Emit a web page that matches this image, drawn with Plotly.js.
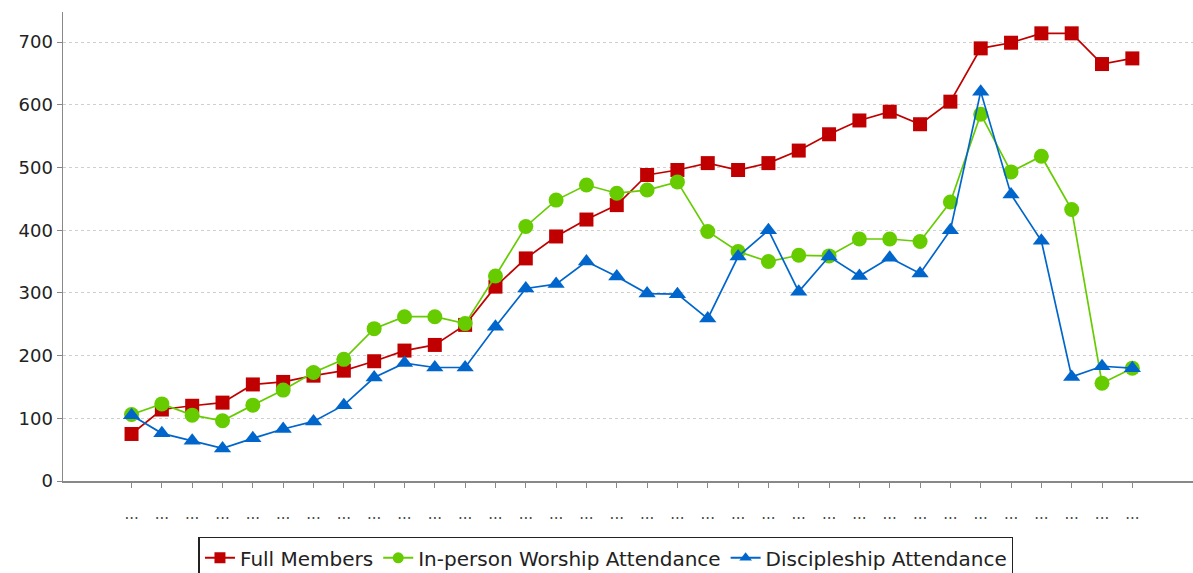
<!DOCTYPE html>
<html><head><meta charset="utf-8">
<script src="https://cdn.plot.ly/plotly-3.0.1.min.js"></script>
<style>html,body{margin:0;padding:0;background:#fff}#chart{width:1193px;height:573px}</style>
</head><body><div id="chart"></div>
<script>
const tickLabels = ["...","...","...","...","...","...","...","...","...","...","...","...","...","...","...","...","...","...","...","...","...","...","...","...","...","...","...","...","...","...","...","...","...","..."];
const fullMembers = [75,114,120,125,154,158,168,176,191,208,217,249,310,355,390,417,440,488,496,507,496,507,527,553,575,589,569,605,690,699,714,714,665,674];
const worship = [106,123,105,96,121,145,173,194,243,262,262,251,327,406,448,472,459,464,477,398,366,350,360,359,386,386,382,445,585,493,518,433,156,180];
const discipleship = [105,76,64,52,68,83,95,121,165,188,181,181,246,307,314,350,326,299,298,259,358,400,302,358,327,356,331,400,621,457,383,166,183,180];
const seriesNames = ['Full Members', 'In-person Worship Attendance', 'Discipleship Attendance'];

const idx = tickLabels.map((_, i) => i);
const styles = [
  {color: '#c00000', symbol: 'square', size: 14},
  {color: '#66cc00', symbol: 'circle', size: 15},
  {color: '#0066cc', symbol: 'triangle-up', size: 15}
];
const values = [fullMembers, worship, discipleship];
const data = [];
values.forEach((y, k) => {
  const s = styles[k];
  data.push({x: idx, y: y, name: seriesNames[k], type: 'scatter', mode: 'lines+markers', showlegend: false,
    line: {color: s.color, width: 1.7}, marker: {color: s.color, symbol: s.symbol, size: s.size}});
});
values.forEach((y, k) => {
  const s = styles[k];
  data.push({x: [null], y: [null], name: seriesNames[k], type: 'scatter', mode: 'lines+markers', showlegend: true,
    line: {color: s.color, width: 2}, marker: {color: s.color, symbol: s.symbol, size: 11}});
});
const layout = {
  width: 1193, height: 573,
  margin: {l: 63, r: 0, t: 12, b: 92, autoexpand: false},
  paper_bgcolor: '#fff', plot_bgcolor: '#fff',
  font: {family: 'DejaVu Sans, sans-serif', size: 16, color: '#222'},
  showlegend: true,
  legend: {orientation: 'h', x: 0.4805, xanchor: 'center', y: -0.119, yanchor: 'top',
    bordercolor: '#222', borderwidth: 1.5, font: {size: 20, color: '#222'}, itemwidth: 30},
  xaxis: {range: [-2.26, 35], tickmode: 'array', tickvals: idx, ticktext: tickLabels,
    showgrid: false, zeroline: false, showline: true, linecolor: '#888', linewidth: 1.5,
    ticks: 'outside', ticklen: 5, tickcolor: '#888', ticklabelstandoff: 13,
    tickfont: {size: 15, color: '#444'}},
  yaxis: {range: [0, 748], tickmode: 'array', tickvals: [0,100,200,300,400,500,600,700],
    showgrid: true, gridcolor: '#cfcfcf', griddash: '3px,3px', gridwidth: 1,
    zeroline: false, showline: true, linecolor: '#888', linewidth: 1.5,
    ticks: 'outside', ticklen: 5, tickcolor: '#888', tickfont: {size: 18, color: '#222'}}
};
Plotly.newPlot('chart', data, layout, {displayModeBar: false, staticPlot: true});
</script></body></html>
